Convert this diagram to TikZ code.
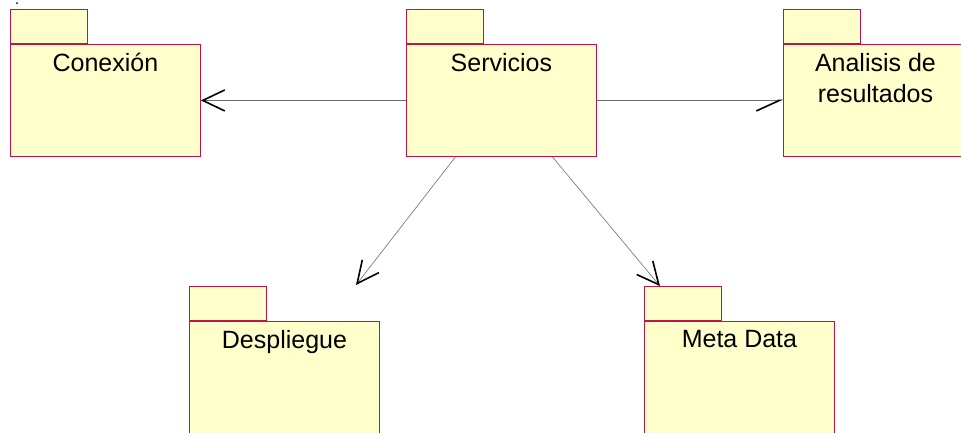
\documentclass[tikz,border=0pt]{standalone}
\usepackage{fontspec}
\setmainfont{Liberation Sans}
\usepackage{tikz}
\usetikzlibrary{arrows.meta,positioning}
\definecolor{pkgfill}{RGB}{255,255,204}
\definecolor{pkgline}{RGB}{190,20,70}
\definecolor{depline}{RGB}{110,110,110}
\tikzset{
  pkg/.style={draw=pkgline, fill=pkgfill, line width=0.9pt, anchor=north west, inner sep=0pt,
              minimum width=190pt, minimum height=112pt},
  pkgtab/.style={draw=pkgline, fill=pkgfill, line width=0.9pt, anchor=south west, inner sep=0pt,
                 minimum width=77pt, minimum height=34pt},
  pkgname/.style={inner sep=0pt, align=center, font=\fontsize{25}{31}\selectfont},
  dep/.style={draw=depline, line width=0.6pt,
              -{Straight Barb[length=22pt, width=21pt, line width=1.6pt, color=black]}},
  halfdep/.style={draw=depline, line width=0.6pt,
              -{Straight Barb[right, length=23pt, width=21pt, line width=1.6pt, color=black]}}
}

\begin{document}
\begin{tikzpicture}[x=1pt, y=-1pt]
\useasboundingbox (0,0) rectangle (961,432);
\fill (17,3) circle (1pt);
% top row
\node[pkgtab] (contab) at (10,44) {};
\node[pkg] (con) at (10,44) {};
\node[pkgname, below=9pt of con.north] (conname) {Conexión};
\node[pkgtab] (servtab) at (406,44) {};
\node[pkg] (serv) at (406,44) {};
\node[pkgname, below=9pt of serv.north] (servname) {Servicios};
\node[pkgtab] (anatab) at (783,44) {};
\node[pkg] (ana) at (783,44) {};
\node[pkgname, below=9pt of ana.north, xshift=-3pt] (ananame) {Analisis de\\resultados};
% bottom row
\node[pkgtab] (desptab) at (189,321) {};
\node[pkg] (desp) at (189,321) {};
\node[pkgname, below=9pt of desp.north] (despname) {Despliegue};
\node[pkgtab] (metatab) at (644,321) {};
\node[pkg] (meta) at (644,321) {};
\node[pkgname, below=9pt of meta.north] (metaname) {Meta Data};
% dependencies
\coordinate (desptip) at (356,285);
\coordinate (metatip) at ([xshift=16pt]metatab.north west);
\draw[dep] (serv.west) -- (con.east);
\draw[halfdep] (serv.east) -- (ana.west);
\draw[dep] ([xshift=-46pt]serv.south) -- (desptip);
\draw[dep] ([xshift=51pt]serv.south) -- (metatip);
\end{tikzpicture}
\end{document}
